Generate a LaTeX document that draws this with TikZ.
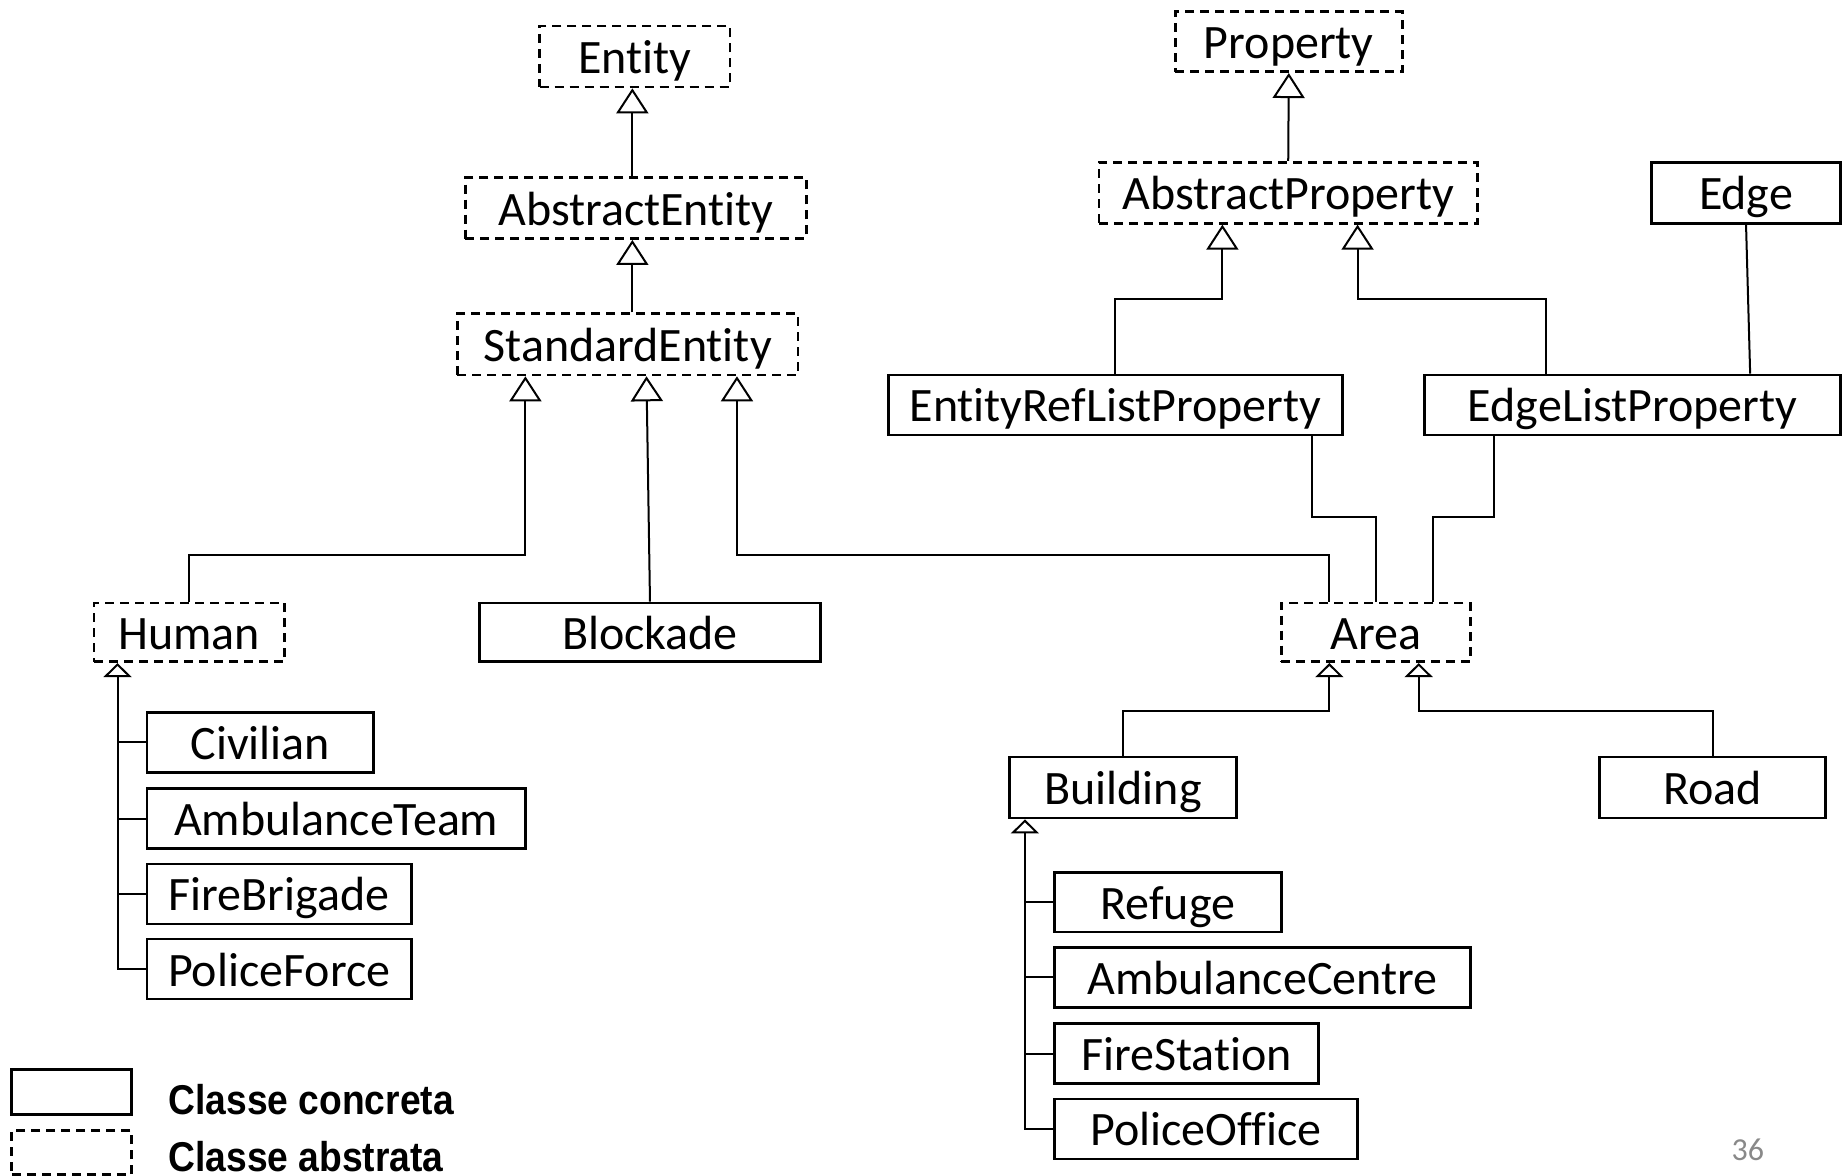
\documentclass[tikz,border=0pt]{standalone}
\usepackage{graphicx}
\usepackage{fontspec}
\setmainfont{Carlito}[Ligatures=NoCommon]
\newfontfamily\legendfont{Liberation Sans}
\usetikzlibrary{arrows.meta}
\definecolor{pagenum}{RGB}{137,137,137}

% class box given by its corners: name, style, x1, y1, x2, y2, label
\newcommand\umlbox[7]{%
  \node[#2, minimum width={(#5-#3)*0.58769pt}, minimum height={(#6-#4)*0.58769pt}]
    (#1) at ({(#3+#5)/2},{(#4+#6)/2}) {#7};}

\begin{document}
\begin{tikzpicture}[
  x=0.58769pt, y=-0.58769pt,
  box/.style={draw, line width=1.35pt, inner sep=0pt,
    font=\fontsize{24}{28}\selectfont, text height=18.4pt, text depth=1.4pt},
  concrete/.style={box},
  abstract/.style={box, dash pattern=on 4.5pt off 3pt},
  link/.style={line width=1pt},
  inh/.style={link, -{Triangle[open, length=12.5pt, width=16pt]}},
  inhs/.style={link, -{Triangle[open, length=7pt, width=14pt]}},
  legendtxt/.style={anchor=base west, inner sep=0pt,
    font=\legendfont\bfseries\fontsize{18.6}{22}\selectfont}
]
\useasboundingbox (0,0) rectangle (1568,1000);

% ---- entity hierarchy ----
\umlbox{entity}{abstract}{459}{22}{621}{74}{Entity}
\umlbox{absent}{abstract}{396}{151}{686}{203}{AbstractEntity}
\umlbox{stdent}{abstract}{389}{267}{679}{319}{StandardEntity}
\umlbox{human}{abstract}{80}{513}{242}{563}{Human}
\umlbox{blockade}{concrete}{408}{513}{698}{563}{Blockade}
\umlbox{area}{abstract}{1090}{513}{1251}{563}{Area}

\umlbox{civilian}{concrete}{125}{606}{318}{657}{Civilian}
\umlbox{ambteam}{concrete}{125}{671}{447}{722}{AmbulanceTeam}
\umlbox{firebrig}{concrete}{125}{735}{350}{786}{FireBrigade}
\umlbox{policef}{concrete}{125}{799}{350}{850}{PoliceForce}

\umlbox{building}{concrete}{859}{644}{1052}{696}{Building}
\umlbox{road}{concrete}{1361}{644}{1553}{696}{Road}
\umlbox{refuge}{concrete}{897}{742}{1090}{793}{Refuge}
\umlbox{ambcentre}{concrete}{897}{806}{1251}{857}{AmbulanceCentre}
\umlbox{firest}{concrete}{897}{871}{1122}{922}{FireStation}
\umlbox{policeo}{concrete}{897}{935}{1155}{986}{PoliceOffice}

% ---- property hierarchy ----
\umlbox{property}{abstract}{1000}{10}{1193}{61}{Property}
\umlbox{absprop}{abstract}{935}{138}{1257}{190}{AbstractProperty}
\umlbox{edge}{concrete}{1405}{138}{1566}{190}{Edge}
\umlbox{erlp}{concrete}{756}{319}{1142}{370}{EntityRefListProperty}
\umlbox{elp}{concrete}{1212}{319}{1566}{370}{EdgeListProperty}

% ---- routing points ----
\coordinate (k1) at (538,0);
\coordinate (hb) at (447,472);
\coordinate (bk) at (550,0);
\coordinate (ab) at (627,472);
\coordinate (ax) at (1131,0);
\coordinate (ap1) at (1040,254);
\coordinate (ap2) at (1155,254);
\coordinate (ex) at (1315,0);
\coordinate (elx) at (1489,0);
\coordinate (r1) at (1116,440);
\coordinate (r1x) at (1171,0);
\coordinate (r2) at (1271,440);
\coordinate (r2x) at (1219,0);
\coordinate (bb) at (1131,605);
\coordinate (rb) at (1207,605);
\coordinate (hv) at (100,0);
\coordinate (bv) at (872,0);

% ---- generalisations ----
\draw[inh] (k1 |- absent.north) -- (k1 |- entity.south);
\draw[inh] (k1 |- stdent.north) -- (k1 |- absent.south);
\draw[inh] (human.north) |- (hb) -- (hb |- stdent.south);
\draw[inh] (blockade.north) -- (bk |- stdent.south);
\draw[inh] (ax |- area.north) |- (ab) -- (ab |- stdent.south);

\draw[inh] (absprop.north) -- (property.south);
\draw[inh] (erlp.north) |- (ap1) -- (ap1 |- absprop.south);
\draw[inh] (ex |- elp.north) |- (ap2) -- (ap2 |- absprop.south);

\draw[inhs] (building.north) |- (bb) -- (bb |- area.south);
\draw[inhs] (road.north) |- (rb) -- (rb |- area.south);

\draw[inhs] (policef.west) -| (hv |- human.south);
\draw[link] (hv |- civilian.west) -- (civilian.west);
\draw[link] (hv |- ambteam.west) -- (ambteam.west);
\draw[link] (hv |- firebrig.west) -- (firebrig.west);

\draw[inhs] (policeo.west) -| (bv |- building.south);
\draw[link] (bv |- refuge.west) -- (refuge.west);
\draw[link] (bv |- ambcentre.west) -- (ambcentre.west);
\draw[link] (bv |- firest.west) -- (firest.west);

% ---- plain associations ----
\draw[link] (edge.south) -- (elx |- elp.north);
\draw[link] (r1 |- erlp.south) -- (r1) -| (r1x |- area.north);
\draw[link] (r2 |- elp.south) -- (r2) -| (r2x |- area.north);

% ---- legend ----
\umlbox{legc}{concrete}{10}{910}{112}{948}{}
\umlbox{lega}{abstract}{10}{962}{112}{999}{}
\node[legendtxt] (legctxt) at (143,948) {\scalebox{1}[1.12]{Classe concreta}};
\node[legendtxt] (legatxt) at (143,996.5) {\scalebox{1}[1.12]{Classe abstrata}};

% ---- page number ----
\node[text=pagenum, font=\fontsize{16}{19}\selectfont, inner sep=0pt] (pnum) at (1487,978) {36};
\end{tikzpicture}
\end{document}
